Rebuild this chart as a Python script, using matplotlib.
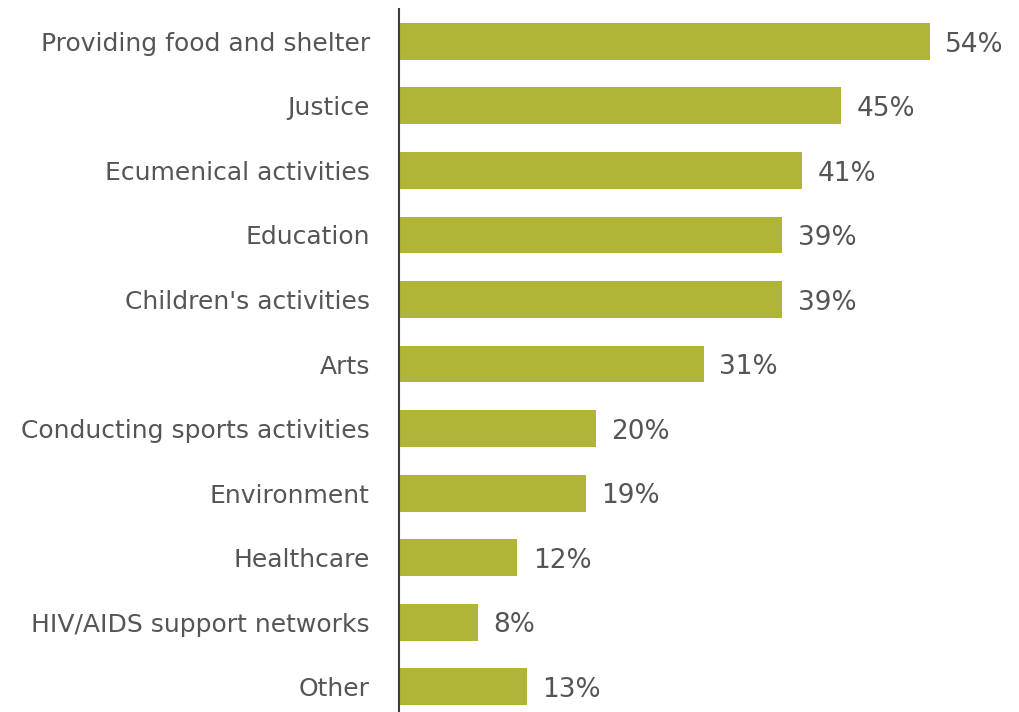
import matplotlib.pyplot as plt

# share of congregations involved in each activity (%)
activities = [
    "Providing food and shelter",
    "Justice",
    "Ecumenical activities",
    "Education",
    "Children's activities",
    "Arts",
    "Conducting sports activities",
    "Environment",
    "Healthcare",
    "HIV/AIDS support networks",
    "Other",
]
shares = [54, 45, 41, 39, 39, 31, 20, 19, 12, 8, 13]

bar_color = "#B0B538"
text_color = "#555555"

fig = plt.figure(figsize=(10.2, 7.12), dpi=100)
ax = fig.add_axes([399 / 1020, 0, 621 / 1020, 703 / 712])

pos = list(range(len(activities)))
ax.barh(pos, shares, height=0.57, color=bar_color)

for y, v in zip(pos, shares):
    ax.text(v + 1.6, y + 0.05, f"{v}%", va="center", ha="left",
            fontsize=19, color=text_color)

ax.set_yticks(pos)
ax.set_yticklabels(activities, fontsize=18, color=text_color)
ax.tick_params(axis="y", length=0, pad=21)
ax.set_xticks([])
ax.set_xlim(0, 63.2)
ax.set_ylim(10.39, -0.5)

for side in ["top", "right", "bottom"]:
    ax.spines[side].set_visible(False)
ax.spines["left"].set_color("#404040")
ax.spines["left"].set_linewidth(1.5)

fig.savefig("out.png", dpi=100)
